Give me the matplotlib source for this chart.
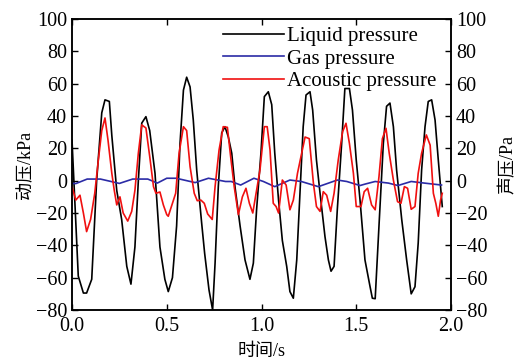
import matplotlib
matplotlib.use('Agg')
import matplotlib.pyplot as plt

# 数据
t_liquid = [0.0, 0.033, 0.06, 0.077, 0.104, 0.13, 0.157, 0.174, 0.197, 0.21, 0.236, 0.262, 0.289, 0.311,
            0.332, 0.35, 0.368, 0.39, 0.41, 0.438, 0.464, 0.49, 0.508, 0.53, 0.552, 0.57, 0.588, 0.605,
            0.623, 0.64, 0.658, 0.684, 0.70, 0.723, 0.742, 0.755, 0.772, 0.79, 0.807, 0.825, 0.843, 0.86,
            0.887, 0.913, 0.939, 0.957, 0.974, 0.997, 1.015, 1.036, 1.054, 1.07, 1.09, 1.11, 1.133, 1.15,
            1.168, 1.186, 1.203, 1.22, 1.235, 1.256, 1.27, 1.29, 1.309, 1.335, 1.353, 1.367, 1.383, 1.40,
            1.423, 1.44, 1.464, 1.48, 1.50, 1.52, 1.546, 1.573, 1.585, 1.60, 1.62, 1.643, 1.66, 1.678,
            1.696, 1.713, 1.74, 1.766, 1.79, 1.81, 1.827, 1.845, 1.863, 1.88, 1.898, 1.916, 1.933, 1.954]
liquid = [25, -59, -69.5, -69.5, -61, 0, 42, 50, 49, 28, -6, -24, -53, -64,
          -41, 0, 35.6, 39.6, 31, 4.6, -41, -61, -68.6, -60, -28, 23, 56, 64,
          58, 37.5, 6.6, -26, -45, -67.6, -80, -51, -3.7, 29.5, 33.4, 27, 17, -3.7,
          -28, -49, -61, -51, -18, 17, 52, 55, 47, 17, -12, -37, -53, -68.6,
          -72.7, -49, -7.8, 33.4, 53, 55, 43.7, 12.8, -7.8, -34.6, -49, -56, -53, -18,
          23, 57, 57, 43.7, 12.8, -12, -49, -65.6, -72.7, -73, -28, 23, 46, 48,
          33.4, 6.6, -24, -49, -70, -65.6, -38.6, 6.6, 33.4, 49, 50, 37.5, 12.8, -16]

t_gas = [0.0, 0.02, 0.08, 0.15, 0.25, 0.32, 0.40, 0.45, 0.50, 0.55, 0.65, 0.72, 0.81, 0.84, 0.89,
         0.96, 1.01, 1.07, 1.15, 1.21, 1.30, 1.40, 1.45, 1.52, 1.55, 1.60, 1.67, 1.72, 1.79, 1.86, 1.95]
gas = [-1.6, -1.8, 1.0, 1.0, -1.7, 1.0, 1.0, -1.5, 1.5, 1.5, -1.2, 1.5, -0.5, -0.5, -2.7,
       1.5, -0.5, -3.7, 0.4, -0.5, -3.7, 0.4, -0.5, -3.0, -2.0, -0.5, -1.5, -3.0, -0.5, -1.5, -2.7]

t_acoustic = [0.0, 0.02, 0.042, 0.06, 0.077, 0.098, 0.12, 0.139, 0.157, 0.174, 0.19, 0.21, 0.223, 0.236,
              0.253, 0.27, 0.294, 0.315, 0.332, 0.35, 0.368, 0.39, 0.41, 0.43, 0.443, 0.464, 0.482, 0.5,
              0.508, 0.53, 0.547, 0.565, 0.588, 0.605, 0.623, 0.645, 0.661, 0.68, 0.698, 0.716, 0.74,
              0.755, 0.776, 0.798, 0.82, 0.837, 0.856, 0.878, 0.899, 0.918, 0.936, 0.954, 0.974, 0.992,
              1.015, 1.03, 1.045, 1.062, 1.077, 1.09, 1.11, 1.13, 1.15, 1.168, 1.19, 1.212, 1.23, 1.252,
              1.274, 1.29, 1.309, 1.326, 1.344, 1.365, 1.383, 1.405, 1.428, 1.446, 1.464, 1.485, 1.50,
              1.51, 1.525, 1.542, 1.56, 1.581, 1.60, 1.62, 1.638, 1.657, 1.674, 1.696, 1.718, 1.736,
              1.754, 1.771, 1.79, 1.81, 1.827, 1.845, 1.87, 1.89, 1.907, 1.92, 1.933, 1.945, 1.954]
acoustic = [-3.7, -12, -9, -20, -31.5, -24, -7.8, 12.8, 31, 38.8, 25, 4.6, -6, -15,
            -10, -20, -25, -19, -6, 17, 34.5, 32.6, 15, -3.7, -7.8, -7, -15, -21,
            -22, -14, -7.8, 17, 33.4, 31, 8.7, -7.8, -12.4, -12, -14, -20.6, -24,
            -3.7, 19, 33.4, 33, 15, -3.7, -21, -10, -4.7, -14, -20, -6, 6.6,
            33.4, 33.4, 19, -14, -16, -20, 0.4, -2.7, -18, -12, 4.6, 17, 27, 26,
            -1.6, -16, -19, -6.8, -9, -19, -7.8, 12.8, 30.3, 35.5, 23, 4.6, -16,
            -16, -16, -6.8, -4.7, -15, -18, 2.5, 26, 32.4, 17, 0.4, -13, -14,
            -3.7, -4.7, -17.7, -16, 4.6, 17, 28.3, 22, -7.8, -14, -22, -12, -7.8]

serif = ['Liberation Serif', 'Noto Sans CJK SC']
plt.rcParams['font.family'] = serif
plt.rcParams['axes.unicode_minus'] = True

fig = plt.figure(figsize=(5.23, 3.62), dpi=100)
ax = fig.add_axes([0.1377, 0.1436, 0.7246, 0.8039])
ax2 = ax.twinx()

l1, = ax.plot(t_liquid, liquid, color='black', lw=1.2, label='Liquid pressure')
l2, = ax.plot(t_gas, gas, color='#2b2ba6', lw=1.2, label='Gas pressure')
l3, = ax2.plot(t_acoustic, acoustic, color='#f01010', lw=1.2, label='Acoustic pressure')

for a in (ax, ax2):
    a.set_xlim(0, 2)
    a.set_ylim(-80, 100)
    a.set_yticks([-80, -60, -40, -20, 0, 20, 40, 60, 80, 100])
    a.tick_params(direction='in', length=4, width=1, labelsize=14.5)
    for s in a.spines.values():
        s.set_linewidth(1.1)
ax.set_xticks([0, 0.5, 1.0, 1.5, 2.0])
ax.set_xticklabels(['0.0', '0.5', '1.0', '1.5', '2.0'])
ax.tick_params(axis='x', top=True, pad=5)
ax2.tick_params(axis='y', right=True)

ax.set_xlabel('时间/s', fontsize=13, labelpad=5)
ax.set_ylabel('动压/kPa', fontsize=13, labelpad=1)
ax2.set_ylabel('声压/Pa', fontsize=13, labelpad=9)

ax.legend([l1, l2, l3], ['Liquid pressure', 'Gas pressure', 'Acoustic pressure'],
          loc='upper right', bbox_to_anchor=(1.0, 1.025), frameon=False, fontsize=15,
          handlelength=2.9, handletextpad=0.15, labelspacing=0.15, borderaxespad=0.3)

fig.savefig('out.png', dpi=100)
